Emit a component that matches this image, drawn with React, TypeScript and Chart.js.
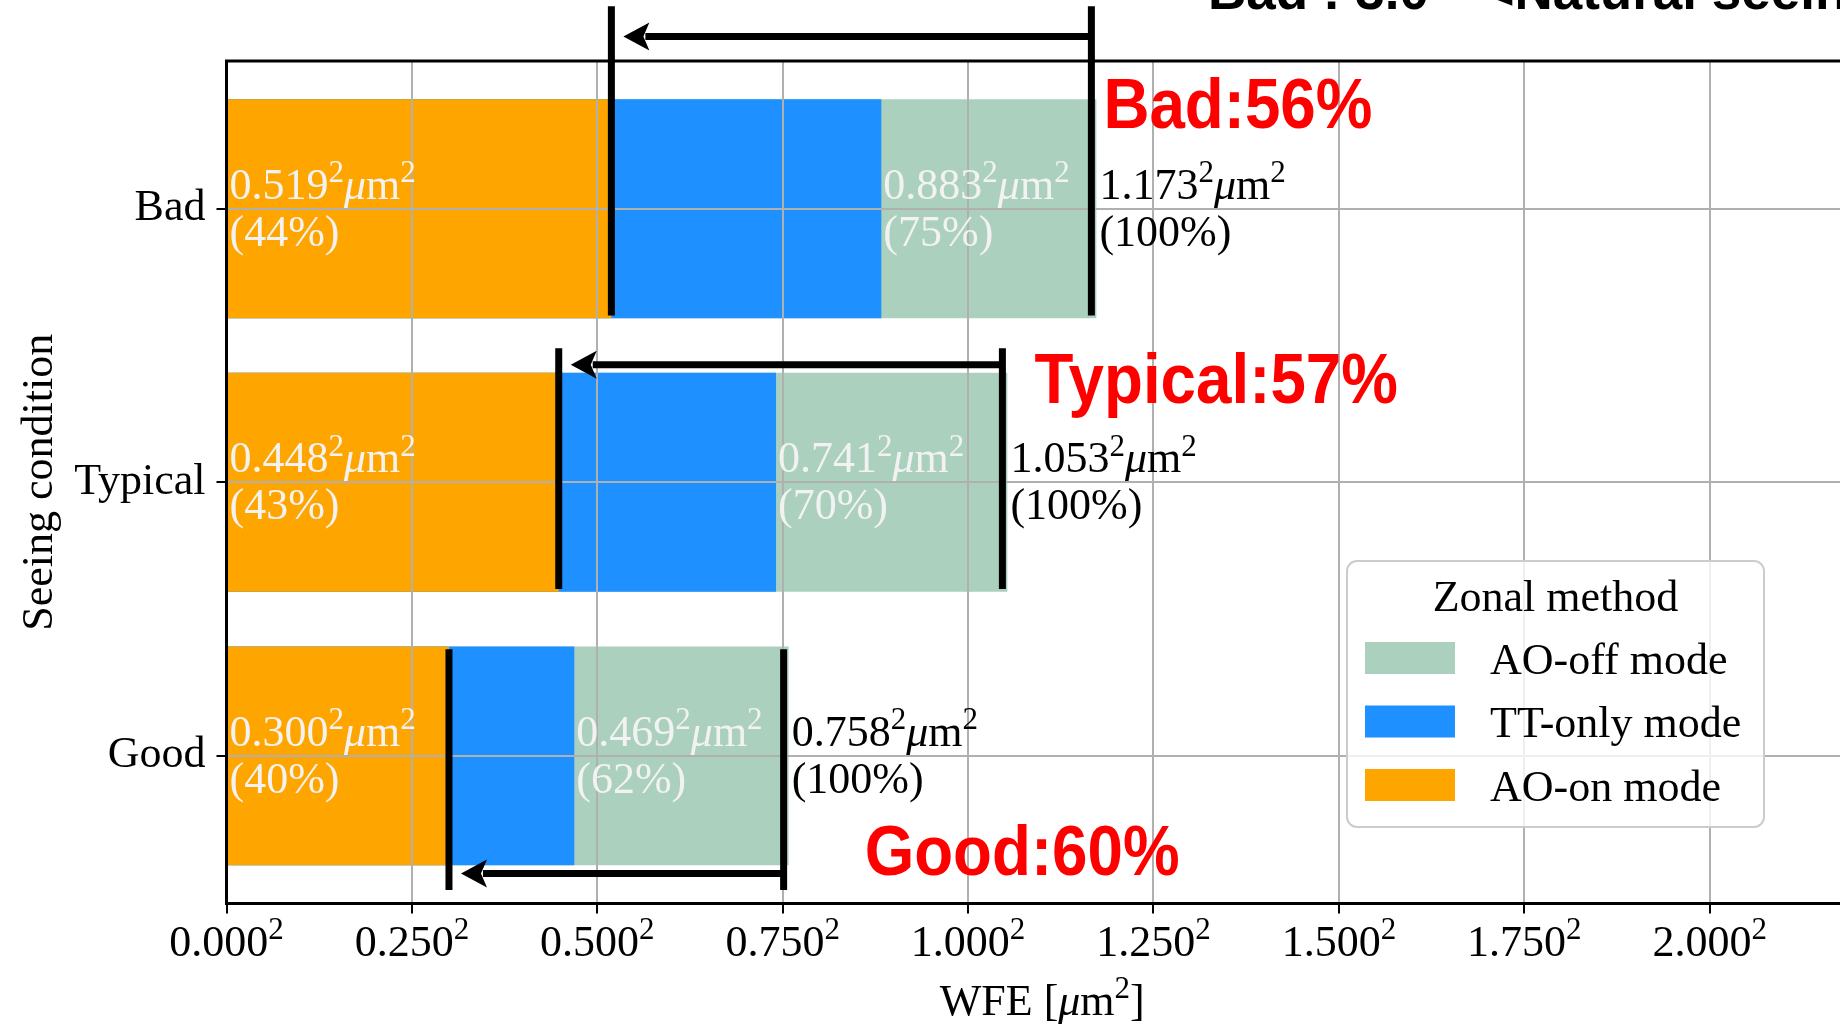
import React, { useEffect, useRef } from "react";
import { Chart, registerables } from "chart.js";
Chart.register(...registerables);

// ---------------- data ----------------
const categories = ["Good", "Typical", "Bad"];
const aoOffValues = [0.758, 1.053, 1.173];
const ttOnlyValues = [0.469, 0.741, 0.883];
const aoOnValues = [0.3, 0.448, 0.519];
const xTickValues = [0, 0.25, 0.5, 0.75, 1.0, 1.25, 1.5, 1.75, 2.0];
const seriesNames = ["AO-off mode", "TT-only mode", "AO-on mode"];
const legendTitle = "Zonal method";
const yAxisTitle = "Seeing condition";
const headerText = 'Bad : 3.0"  <Natural seeing>';

// ---------------- style / layout ----------------
const W = 1880;
const H = 1025;
const SERIF = '"Liberation Serif", "Times New Roman", serif';
const SANS = '"Liberation Sans", Arial, sans-serif';
const FS = 44;
const COLORS = { off: "#abd0bd", tt: "#1e90ff", on: "#ffa500" };
const INNER_TEXT = "#f2f2f2";
// annotation geometry (data units relative to category centre)
const bracketUp = [0.39, 0.49, 0.74];
const bracketDown = [0.49, 0.39, 0.39];
const arrowAt = [-0.43, 0.43, 0.63];
const rightLineShift = -5; // px
// red label offsets (pixels)
const redDx = [76, 27, 7];
const redDy = [119, -79, -81];

type Seg = { t: string; sup?: boolean; it?: boolean };

function drawRich(ctx: CanvasRenderingContext2D, segs: Seg[], x: number, y: number, size: number, color: string, align: "left" | "center" = "left") {
  const fontOf = (s: Seg) => `${s.it ? "italic " : ""}${s.sup ? Math.round(size * 0.7) : size}px ${SERIF}`;
  const widths = segs.map((s) => {
    ctx.font = fontOf(s);
    return ctx.measureText(s.t).width;
  });
  const total = widths.reduce((a, b) => a + b, 0);
  let cx = align === "center" ? x - total / 2 : x;
  ctx.fillStyle = color;
  ctx.textAlign = "left";
  ctx.textBaseline = "alphabetic";
  segs.forEach((s, i) => {
    ctx.font = fontOf(s);
    ctx.fillText(s.t, cx, s.sup ? y - size * 0.38 : y);
    cx += widths[i];
  });
}

const valueSegs = (v: number): Seg[] => [
  { t: v.toFixed(3) },
  { t: "2", sup: true },
  { t: "\u03bc", it: true },
  { t: "m" },
  { t: "2", sup: true },
];

const overlayPlugin = {
  id: "overlay",
  afterDraw(chart: any) {
    const { ctx, chartArea, scales } = chart;
    const xs = scales.x;
    const ys = scales.y;
    ctx.save();

    // top spine
    ctx.strokeStyle = "#000";
    ctx.lineWidth = 3;
    ctx.beginPath();
    ctx.moveTo(chartArea.left - 1.5, chartArea.top);
    ctx.lineTo(chartArea.right, chartArea.top);
    ctx.stroke();

    // x tick labels
    xTickValues.forEach((v) => {
      drawRich(ctx, [{ t: v.toFixed(3) }, { t: "2", sup: true }], xs.getPixelForValue(v), 956, FS, "#000", "center");
    });

    categories.forEach((cat, i) => {
      const cy = ys.getPixelForValue(i);
      const off = aoOffValues[i];
      const tt = ttOnlyValues[i];
      const on = aoOnValues[i];
      const pctOn = Math.round((on / off) * 100);
      const pctTT = Math.round((tt / off) * 100);
      const l1 = cy - 10;
      const l2 = cy + 37;
      // inner labels
      const x0 = xs.getPixelForValue(0) + 3;
      drawRich(ctx, valueSegs(on), x0, l1, FS, INNER_TEXT);
      drawRich(ctx, [{ t: `(${pctOn}%)` }], x0, l2, FS, INNER_TEXT);
      const xt = xs.getPixelForValue(tt) + 2;
      drawRich(ctx, valueSegs(tt), xt, l1, FS, INNER_TEXT);
      drawRich(ctx, [{ t: `(${pctTT}%)` }], xt, l2, FS, INNER_TEXT);
      const xo = xs.getPixelForValue(off) + 3;
      drawRich(ctx, valueSegs(off), xo, l1, FS, "#000");
      drawRich(ctx, [{ t: "(100%)" }], xo, l2, FS, "#000");

      // bracket lines
      const yTop = ys.getPixelForValue(i + bracketUp[i]);
      const yBot = ys.getPixelForValue(i - bracketDown[i]);
      const pxOn = xs.getPixelForValue(on);
      const pxOff = xs.getPixelForValue(off) + rightLineShift;
      ctx.strokeStyle = "#000";
      ctx.lineWidth = 7;
      ctx.beginPath();
      ctx.moveTo(pxOn, yTop);
      ctx.lineTo(pxOn, yBot);
      ctx.moveTo(pxOff, yTop);
      ctx.lineTo(pxOff, yBot);
      ctx.stroke();

      // arrow
      const ya = ys.getPixelForValue(i + arrowAt[i]);
      const tip = pxOn + 12;
      const headLen = 26;
      const headHalf = 14;
      ctx.lineWidth = 7;
      ctx.beginPath();
      ctx.moveTo(pxOff, ya);
      ctx.lineTo(tip + headLen - 4, ya);
      ctx.stroke();
      ctx.fillStyle = "#000";
      ctx.beginPath();
      ctx.moveTo(tip, ya);
      ctx.lineTo(tip + headLen, ya - headHalf);
      ctx.lineTo(tip + headLen - 6, ya);
      ctx.lineTo(tip + headLen, ya + headHalf);
      ctx.closePath();
      ctx.fill();

      // red reduction label
      const red = Math.round((1 - on / off) * 100);
      ctx.save();
      ctx.translate(xs.getPixelForValue(off) + redDx[i], cy + redDy[i]);
      ctx.scale(0.91, 1);
      ctx.font = `bold 70px ${SANS}`;
      ctx.fillStyle = "#ff0000";
      ctx.textAlign = "left";
      ctx.textBaseline = "alphabetic";
      ctx.fillText(`${cat}:${red}%`, 0, 0);
      ctx.restore();
    });

    // legend
    const lx = 1347, ly = 561, lw = 417, lh = 266, r = 10;
    ctx.beginPath();
    ctx.moveTo(lx + r, ly);
    ctx.arcTo(lx + lw, ly, lx + lw, ly + lh, r);
    ctx.arcTo(lx + lw, ly + lh, lx, ly + lh, r);
    ctx.arcTo(lx, ly + lh, lx, ly, r);
    ctx.arcTo(lx, ly, lx + lw, ly, r);
    ctx.closePath();
    ctx.fillStyle = "rgba(255,255,255,0.8)";
    ctx.fill();
    ctx.strokeStyle = "#cccccc";
    ctx.lineWidth = 2;
    ctx.stroke();
    drawRich(ctx, [{ t: legendTitle }], lx + lw / 2, 611, FS, "#000", "center");
    const legendColors = [COLORS.off, COLORS.tt, COLORS.on];
    seriesNames.forEach((name, k) => {
      const cyL = 658 + k * 63.5;
      ctx.fillStyle = legendColors[k];
      ctx.fillRect(1365, cyL - 16, 90, 32);
      drawRich(ctx, [{ t: name }], 1490, cyL + 15.5, FS, "#000");
    });

    // axis titles
    drawRich(ctx, [{ t: "WFE [" }, { t: "\u03bc", it: true }, { t: "m" }, { t: "2", sup: true }, { t: "]" }], (chartArea.left + chartArea.right) / 2, 1015, FS, "#000", "center");
    ctx.save();
    ctx.translate(52, (chartArea.top + chartArea.bottom) / 2);
    ctx.rotate(-Math.PI / 2);
    drawRich(ctx, [{ t: yAxisTitle }], 0, 0, FS, "#000", "center");
    ctx.restore();

    // clipped header
    ctx.font = `bold 53px ${SANS}`;
    ctx.fillStyle = "#000";
    ctx.textAlign = "left";
    ctx.textBaseline = "alphabetic";
    ctx.fillText(headerText, 1208, 9);

    ctx.restore();
  },
};

export default function App() {
  const ref = useRef<HTMLCanvasElement | null>(null);
  useEffect(() => {
    if (!ref.current) return;
    const mk = (label: string, vals: number[], color: string) => ({
      label,
      data: vals.map((v, i) => ({ x: v, y: i })),
      backgroundColor: color,
      borderWidth: 0,
      grouped: false,
      barPercentage: 0.8,
      categoryPercentage: 1,
    });
    const gridCommon = { color: "#b0b0b0", lineWidth: 2, z: 1, tickLength: 10, tickColor: "#000", tickWidth: 2, offset: false };
    const chart = new Chart(ref.current, {
      type: "bar",
      data: {
        datasets: [
          mk(seriesNames[2], aoOnValues, COLORS.on),
          mk(seriesNames[1], ttOnlyValues, COLORS.tt),
          mk(seriesNames[0], aoOffValues, COLORS.off),
        ] as any,
      },
      options: {
        indexAxis: "y",
        animation: false,
        responsive: false,
        devicePixelRatio: 1,
        layout: { padding: { top: 61, right: 22, left: 0, bottom: 0 } },
        plugins: { legend: { display: false }, tooltip: { enabled: false } },
        scales: {
          x: {
            type: "linear",
            min: 0,
            max: 2.2,
            offset: false,
            afterBuildTicks: (s: any) => {
              s.ticks = xTickValues.map((v) => ({ value: v }));
            },
            afterFit: (s: any) => {
              s.height = 121.4;
            },
            ticks: {
              display: false,
              autoSkip: false,
            },
            grid: gridCommon,
            border: { color: "#000", width: 3, z: 1 },
          },
          y: {
            type: "linear",
            min: -0.54,
            max: 2.54,
            offset: false,
            afterBuildTicks: (s: any) => {
              s.ticks = categories.map((_, i) => ({ value: i }));
            },
            afterFit: (s: any) => {
              s.width = 226.5;
            },
            ticks: {
              callback: (v: any) => categories[Number(v)] ?? "",
              font: { family: SERIF, size: FS },
              color: "#000",
              padding: 11,
              autoSkip: false,
            },
            grid: gridCommon,
            border: { color: "#000", width: 3, z: 1 },
          },
        },
      } as any,
      plugins: [overlayPlugin],
    });
    return () => chart.destroy();
  }, []);
  return (
    <div style={{ position: "fixed", left: 0, top: 0, width: 1840, height: 1025, overflow: "hidden", background: "#fff" }}>
      <canvas ref={ref} width={W} height={H} style={{ display: "block" }} />
    </div>
  );
}
